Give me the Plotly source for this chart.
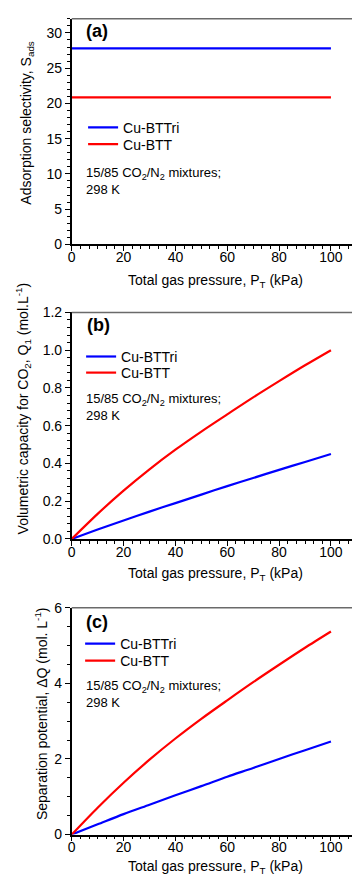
import plotly.graph_objects as go

# Total gas pressure grid (kPa)
pressure = [0, 10, 20, 30, 40, 50, 60, 70, 80, 90, 100]

# (a) Adsorption selectivity
sel_bttri = [27.8, 27.8, 27.8, 27.8, 27.8, 27.8, 27.8, 27.8, 27.8, 27.8, 27.8]
sel_btt = [20.85, 20.85, 20.85, 20.85, 20.85, 20.85, 20.85, 20.85, 20.85, 20.85, 20.85]

# (b) Volumetric CO2 capacity, mol/L
cap_bttri = [0, 0.05, 0.098, 0.145, 0.19, 0.235, 0.28, 0.323, 0.366, 0.408, 0.45]
cap_btt = [0, 0.133, 0.256, 0.369, 0.473, 0.569, 0.66, 0.75, 0.836, 0.92, 1.0]

# (c) Separation potential, mol/L
sep_bttri = [0, 0.27, 0.54, 0.79, 1.04, 1.28, 1.53, 1.76, 2.0, 2.23, 2.46]
sep_btt = [0, 0.71, 1.37, 1.98, 2.54, 3.06, 3.55, 4.03, 4.49, 4.94, 5.37]

series_names = ["Cu-BTTri", "Cu-BTT"]
series_colors = ["#0000ff", "#ff0000"]

x_ticks = [0, 20, 40, 60, 80, 100]

W, H = 352, 888
FONT = "Liberation Sans, Arial, sans-serif"


def py(pix):
    """pixel row -> paper y"""
    return 1 - pix / H


def px(pix):
    return pix / W


# panel pixel extents (top, bottom)
panels = [(11, 240.7), (310, 540.7), (610.7, 841.7)]
x_left = 68.5

panel_data = [
    (sel_bttri, sel_btt, [0, 32], 5, 1, None),
    (cap_bttri, cap_btt, [0, 1.2], 0.2, 0.04, ".1f"),
    (sep_bttri, sep_btt, [0, 6], 2, 0.5, None),
]

# one legend box per entry so rows sit at their own heights
legend_rows = [
    [(80, 122), (80, 139)],
    [(78, 355.3), (78, 371.7)],
    [(77, 647.7), (77, 665)],
]

fig = go.Figure()
leg_n = 0
legend_layout = {}

for i, (blue, red, yr, dt, mdt, fmt) in enumerate(panel_data):
    xa = "x" if i == 0 else f"x{i+1}"
    ya = "y" if i == 0 else f"y{i+1}"
    for j, (vals, name, col) in enumerate(zip([blue, red], series_names, series_colors)):
        leg_n += 1
        lid = "legend" if leg_n == 1 else f"legend{leg_n}"
        lx, ly = legend_rows[i][j]
        legend_layout[lid] = dict(
            x=px(lx), y=py(ly), xanchor="left", yanchor="middle",
            bgcolor="rgba(0,0,0,0)", borderwidth=0, itemwidth=30,
            font=dict(family=FONT, size=14, color="black"),
        )
        fig.add_trace(go.Scatter(
            x=pressure, y=vals, mode="lines", name=name, showlegend=True,
            line=dict(color=col, width=2.2, shape="spline", smoothing=0.8),
            xaxis=xa, yaxis=ya, legend=lid,
        ))
    top, bot = panels[i]
    xkey = "xaxis" if i == 0 else f"xaxis{i+1}"
    ykey = "yaxis" if i == 0 else f"yaxis{i+1}"
    fig.update_layout({
        xkey: dict(
            domain=[px(x_left), 1], range=[0, (W - x_left) / 2.622],
            anchor=ya, tickvals=x_ticks, ticks="outside", ticklen=5,
            tickwidth=1, tickcolor="black", showline=True, linecolor="black",
            linewidth=1.5, showgrid=False, zeroline=False, ticklabelstandoff=-6,
            tickfont=dict(family=FONT, size=14, color="black"),
            minor=dict(ticks="outside", ticklen=3, dtick=20 / 6, tick0=0,
                       tickcolor="black", tickwidth=1, showgrid=False),
        ),
        ykey: dict(
            domain=[py(bot), py(top)], range=yr, anchor=xa, dtick=dt, tick0=0,
            ticks="outside", ticklen=5, tickwidth=1, tickcolor="black",
            showline=True, linecolor="black", linewidth=1.5, showgrid=False,
            zeroline=False, tickformat=fmt,
            tickfont=dict(family=FONT, size=14, color="black"),
            minor=dict(ticks="outside", ticklen=3, dtick=mdt, tick0=0,
                       tickcolor="black", tickwidth=1, showgrid=False),
        ),
    })
    # top frame line
    fig.add_shape(type="line", xref=f"{xa} domain", yref=f"{ya} domain",
                  x0=0, x1=1, y0=1, y1=1, line=dict(color="#6a6a6a", width=1.5))

fig.update_layout(legend_layout)

annotations = []
# panel labels
for lab, (lx, ly) in zip(["(a)", "(b)", "(c)"], [(81, 23), (82, 323.3), (81, 625)]):
    annotations.append(dict(text=f"<b>{lab}</b>", x=px(lx), y=py(ly), xref="paper",
                            yref="paper", xanchor="left", yanchor="middle",
                            showarrow=False, font=dict(family=FONT, size=18, color="black")))
# condition notes
note = "15/85 CO<sub>2</sub>/N<sub>2</sub> mixtures;<br>298 K"
for lx, ly in [(81, 176.5), (81, 406), (81, 698.7)]:
    annotations.append(dict(text=note, x=px(lx), y=py(ly), xref="paper", yref="paper",
                            xanchor="left", yanchor="middle", align="left",
                            showarrow=False, font=dict(family=FONT, size=13, color="black")))
# x axis titles
for ly in [278, 576.7, 874.5]:
    annotations.append(dict(text="Total gas pressure, P<sub>T</sub> (kPa)", x=px(213.5),
                            y=py(ly), xref="paper", yref="paper", xanchor="center",
                            yanchor="middle", showarrow=False,
                            font=dict(family=FONT, size=14, color="black")))
# y axis titles
y_titles = [
    ("Adsorption selectivity, S<sub>ads</sub>", 23, 117),
    ("Volumetric capacity for CO<sub>2</sub>, Q<sub>1</sub> (mol.L<sup>-1</sup>)", 19, 408),
    ("Separation potential, \u0394Q (mol. L<sup>-1</sup>)", 37.5, 719),
]
for txt, lx, ly in y_titles:
    annotations.append(dict(text=txt, x=px(lx), y=py(ly), xref="paper", yref="paper",
                            xanchor="center", yanchor="middle", textangle=-90,
                            showarrow=False, font=dict(family=FONT, size=14, color="black")))

fig.update_layout(
    width=W, height=H, autosize=False, showlegend=True,
    margin=dict(l=0, r=0, t=0, b=0, pad=0),
    paper_bgcolor="white", plot_bgcolor="white",
    annotations=annotations,
    font=dict(family=FONT, color="black"),
)

fig.write_html("out.html")
